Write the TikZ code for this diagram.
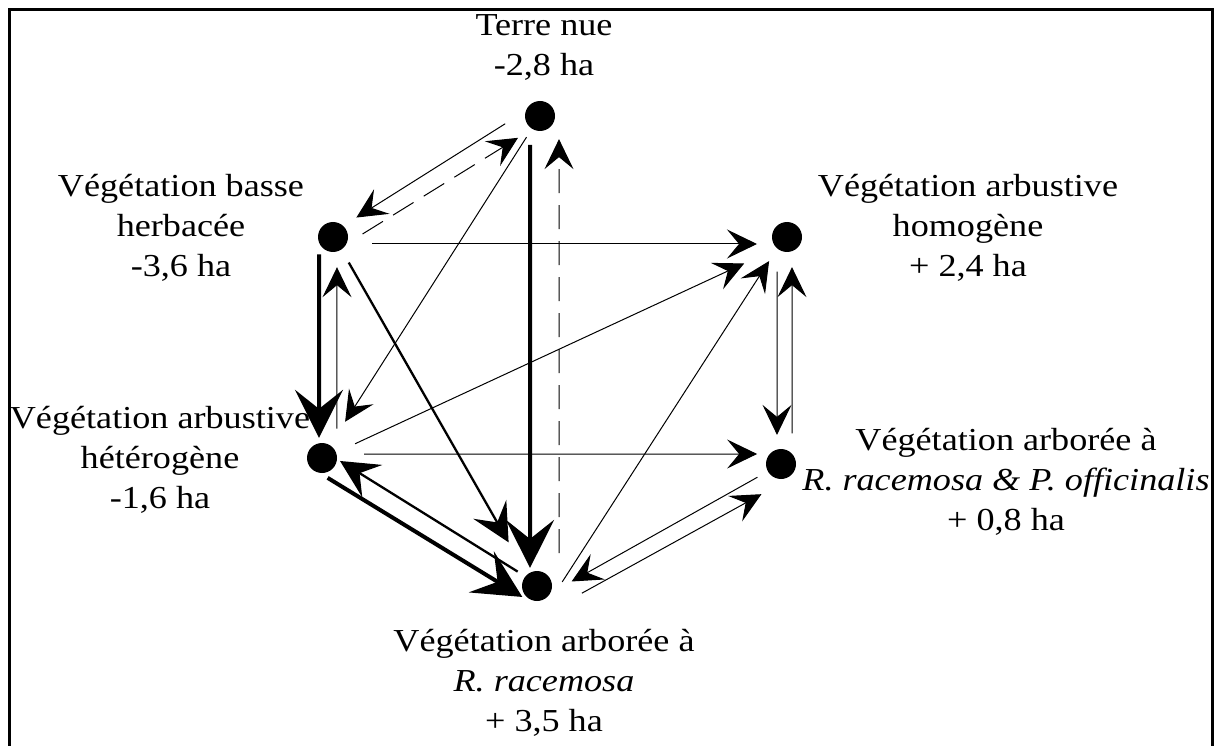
\documentclass[tikz,border=0pt]{standalone}
\usepackage{fontspec}
\setmainfont{Liberation Serif}[FakeStretch=1.13]
\usetikzlibrary{arrows.meta, calc}
\tikzset{
  every picture/.style={x=1pt, y=-1pt},
  dot/.style={circle, fill=black, inner sep=0pt, minimum size=30pt},
  lbl/.style={align=center, inner sep=0pt, font=\fontsize{32pt}{40pt}\selectfont},
  thinflow/.style={line width=1pt, -{Stealth[length=30pt, width=29pt, inset=12pt]}},
  dashflow/.style={thinflow, dash pattern=on 24pt off 12pt},
  midflow/.style={line width=2.3pt, -{Stealth[length=38pt, width=38pt, inset=15pt]}},
  thickflow/.style={line width=4pt, -{Stealth[length=48pt, width=48pt, inset=19pt]}},
}

\begin{document}
\begin{tikzpicture}
  \useasboundingbox (0,0) rectangle (1216,746);
  \draw[line width=3pt] (9.5,9.5) rectangle (1212.5,790);
  % land cover classes
  \node[dot] (tn) at (540,116) {};
  \node[dot] (vbh) at (333,237) {};
  \node[dot] (vaho) at (787,237) {};
  \node[dot] (vahe) at (322,458) {};
  \node[dot] (varp) at (781,464) {};
  \node[dot] (var) at (537,586) {};
  \node[lbl] (tnlab) at (544,47) {Terre nue\\-2,8 ha};
  \node[lbl] (vbhlab) at (181,228) {Végétation basse\\herbacée\\-3,6 ha};
  \node[lbl] (vaholab) at (968,228) {Végétation arbustive\\homogène\\+ 2,4 ha};
  \node[lbl] (vahelab) at (160,460) {Végétation arbustive\\hétérogène\\-1,6 ha};
  \node[lbl] (varplab) at (1006,482) {Végétation arborée à\\\textit{R. racemosa \& P. officinalis}\\+ 0,8 ha};
  \node[lbl] (varlab) at (544,683) {Végétation arborée à\\\textit{R. racemosa}\\+ 3,5 ha};
  % from/to/offset at start/offset at end/gap at start/gap at end/style
  \foreach \a/\b/\p/\q/\s/\t/\sty in {
      tn/vbh/12/4/34/30/thinflow,
      vbh/tn/13/7/27/30/dashflow,
      tn/vahe/0/0/25/43/thinflow,
      tn/var/10/7/29/18/thickflow,
      var/tn/22/19/33/23/dashflow,
      vbh/vaho/7/7/39/30/thinflow,
      vbh/vahe/14/3/18/20/thickflow,
      vahe/vbh/15/4/30/30/thinflow,
      vbh/var/-1/3/30/52/midflow,
      vahe/vaho/1/6/36/50/thinflow,
      var/vaho/19/-2/18/30/thinflow,
      vaho/varp/10/4/35/29/thinflow,
      varp/vaho/11/5/31/30/thinflow,
      vahe/varp/-4/-10/42/24/thinflow,
      vahe/var/14/17/15/7/thickflow,
      var/vahe/2/7/24/17/midflow,
      varp/var/0/-13/27/33/thinflow,
      var/varp/28/17/37/31/thinflow} {
    \draw[\sty, shorten <=\s pt, shorten >=\t pt]
      ($(\a)!\p pt!-90:(\b)$) -- ($(\b)!\q pt!90:(\a)$);
  }
\end{tikzpicture}
\end{document}
